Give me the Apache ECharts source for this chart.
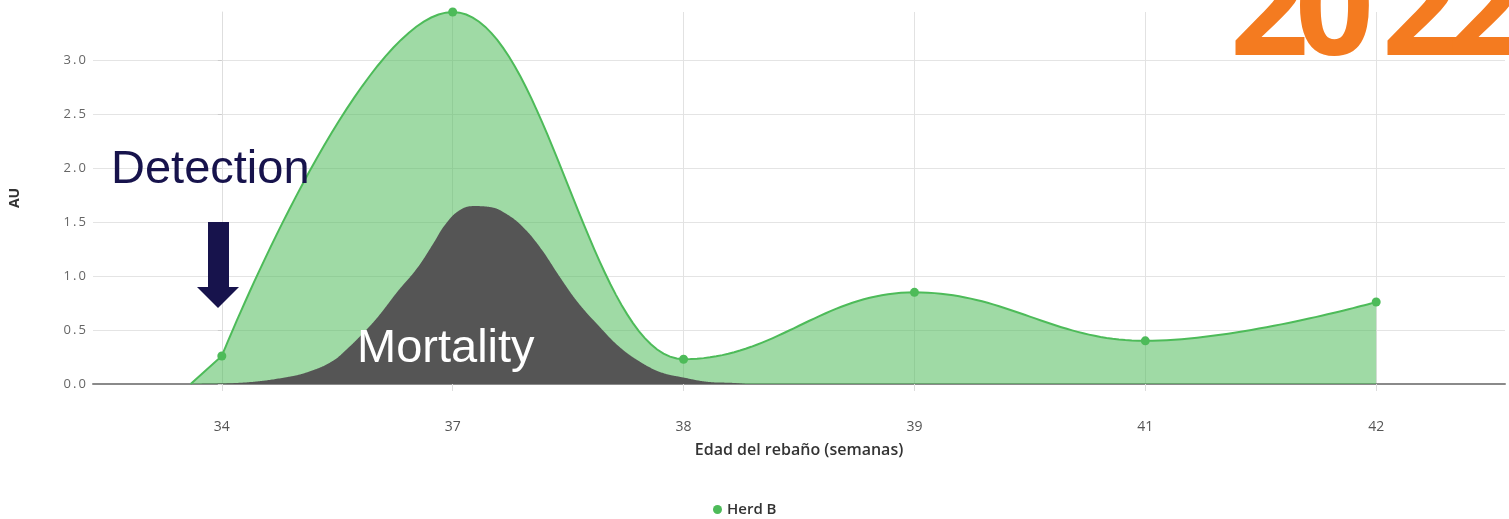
<!DOCTYPE html>
<html>
<head>
<meta charset="utf-8">
<script src="https://cdn.jsdelivr.net/npm/echarts@6/dist/echarts.min.js"></script>
<style>
  html, body { margin: 0; padding: 0; background: #ffffff; }
  #chart { width: 1509px; height: 519px; }
</style>
</head>
<body>
<div id="chart"></div>
<script>
// Herd age (weeks) shown as evenly spaced positions on the x axis
const weekLabels = ['34', '37', '38', '39', '41', '42'];
const weekIndex = [0, 1, 2, 3, 4, 5];

// Herd B signal (AU) per week
const herdB = [0.26, 3.45, 0.23, 0.85, 0.40, 0.76];
// foot of the Herd B area just before week 34
const herdBLeadIn = [-0.135, 0];

// Mortality curve overlay (x in week positions, y in AU)
const mortalityX = [-0.165, 0.069, 0.286, 0.398, 0.485, 0.545, 0.602, 0.675, 0.762, 0.848, 0.918, 0.961, 1.022, 1.091, 1.165, 1.238, 1.307, 1.381, 1.468, 1.541, 1.628, 1.714, 1.801, 1.900, 2.000, 2.104, 2.216, 2.270];
const mortalityY = [0, 0.01, 0.065, 0.13, 0.22, 0.33, 0.45, 0.62, 0.86, 1.08, 1.31, 1.46, 1.60, 1.65, 1.64, 1.57, 1.45, 1.26, 0.98, 0.76, 0.55, 0.36, 0.22, 0.11, 0.06, 0.02, 0.01, 0];

const yMax = 3.45;
const xPad = 0.558;

const UI_FONT = 'Open Sans, Liberation Sans, sans-serif';

// Spline through pixel points: control points at 1/2.5 of each neighbour
// segment, kept level at local peaks and troughs so the curve never overshoots.
function splineSegments(pts) {
  const s = 1.5, den = s + 1;
  const cps = pts.map((pt, i) => {
    const [x, y] = pt;
    const p = pts[i - 1], n = pts[i + 1];
    if (!p || !n) return { lx: x, ly: y, rx: x, ry: y };
    const lx = (s * x + p[0]) / den, rx = (s * x + n[0]) / den;
    let ly = (s * y + p[1]) / den, ry = (s * y + n[1]) / den;
    let corr = 0;
    if (rx !== lx) corr = ((ry - ly) * (rx - x)) / (rx - lx) + y - ry;
    ly += corr; ry += corr;
    if (ly > p[1] && ly > y) { ly = Math.max(p[1], y); ry = 2 * y - ly; }
    else if (ly < p[1] && ly < y) { ly = Math.min(p[1], y); ry = 2 * y - ly; }
    if (ry > n[1] && ry > y) { ry = Math.max(n[1], y); ly = 2 * y - ry; }
    else if (ry < n[1] && ry < y) { ry = Math.min(n[1], y); ly = 2 * y - ry; }
    return { lx, ly, rx, ry };
  });
  const out = [pts[0].slice()];
  const steps = 40;
  for (let i = 1; i < pts.length; i++) {
    const p0 = pts[i - 1], p3 = pts[i];
    const c1 = [cps[i - 1].rx, cps[i - 1].ry], c2 = [cps[i].lx, cps[i].ly];
    for (let k = 1; k <= steps; k++) {
      const t = k / steps, u = 1 - t;
      const a = u * u * u, b = 3 * u * u * t, c = 3 * u * t * t, d = t * t * t;
      out.push([
        a * p0[0] + b * c1[0] + c * c2[0] + d * p3[0],
        a * p0[1] + b * c1[1] + c * c2[1] + d * p3[1]
      ]);
    }
  }
  return out;
}

function makeAreaRenderer(fill, stroke, lineWidth, leadIn) {
  return function (params, api) {
    if (params.dataIndexInside !== 0) return null;
    const n = params.dataInsideLength;
    const pts = [];
    for (let j = 0; j < n; j++) pts.push(api.coord([api.value(0, j), api.value(1, j)]));
    let curve = splineSegments(pts);
    if (leadIn) curve = [api.coord(leadIn)].concat(curve);
    const baseY = api.coord([0, 0])[1];
    const area = curve.concat([[curve[curve.length - 1][0], baseY], [curve[0][0], baseY]]);
    const children = [{
      type: 'polygon',
      shape: { points: area },
      style: { fill: fill, stroke: null },
      silent: true
    }];
    if (stroke) {
      children.push({
        type: 'polyline',
        shape: { points: curve },
        style: { fill: null, stroke: stroke, lineWidth: lineWidth },
        silent: true
      });
    }
    return { type: 'group', children: children };
  };
}

const chart = echarts.init(document.getElementById('chart'), null, { renderer: 'canvas' });

const herdBPoints = weekIndex.map((x, i) => [x, herdB[i]]);
const mortalityPoints = mortalityX.map((x, i) => [x, mortalityY[i]]);

const option = {
  animation: false,
  backgroundColor: '#ffffff',
  grid: { left: 92, right: 4, top: 12, bottom: 135, containLabel: false },
  legend: {
    data: [{ name: 'Herd B', icon: 'circle' }],
    left: 708, top: 497,
    itemWidth: 9, itemHeight: 9, itemGap: 10,
    selectedMode: false,
    textStyle: { color: '#333333', fontSize: 15, fontWeight: 600, fontFamily: UI_FONT }
  },
  xAxis: {
    type: 'value',
    min: -xPad, max: weekIndex.length - 1 + xPad,
    name: 'Edad del rebaño (semanas)',
    nameLocation: 'middle',
    nameGap: 58,
    nameTextStyle: { color: '#333333', fontSize: 16, fontWeight: 600, fontFamily: UI_FONT },
    axisLine: { show: true, lineStyle: { color: '#8a8a8a', width: 2 } },
    axisTick: { show: true, customValues: weekIndex, length: 7, lineStyle: { color: '#dddddd' } },
    axisLabel: {
      customValues: weekIndex,
      margin: 36,
      color: '#555555', fontSize: 14, fontFamily: UI_FONT,
      formatter: v => weekLabels[Math.round(v)]
    },
    splitLine: { show: false }
  },
  yAxis: {
    type: 'value',
    min: 0, max: yMax, interval: 0.5,
    name: 'AU',
    nameLocation: 'middle',
    nameGap: 71,
    nameRotate: 90,
    nameTextStyle: { color: '#333333', fontSize: 14, fontWeight: 'bold', fontFamily: UI_FONT },
    axisLine: { show: true, lineStyle: { color: '#dedede', width: 1 } },
    axisTick: { show: true, length: 4, lineStyle: { color: '#cccccc' } },
    axisLabel: {
      margin: 7, color: '#666666', fontSize: 13,
      fontFamily: UI_FONT,
      showMaxLabel: false,
      formatter: v => (Math.abs(v * 2 - Math.round(v * 2)) < 1e-6 ? v.toFixed(1).replace('.', '\u2009.\u2009') : '')
    },
    splitLine: { show: true, showMaxLine: false, lineStyle: { color: '#e4e4e4', width: 1 } }
  },
  series: [
    {
      // vertical grid lines at each week
      type: 'line',
      z: 0,
      data: [],
      silent: true,
      markLine: {
        silent: true,
        z: 0,
        symbol: 'none',
        label: { show: false },
        lineStyle: { color: '#e2e2e2', width: 1, type: 'solid' },
        data: weekIndex.map(x => ({ xAxis: x }))
      }
    },
    {
      // Herd B filled spline
      type: 'custom',
      z: 2,
      silent: true,
      encode: { x: 0, y: 1 },
      data: herdBPoints,
      renderItem: makeAreaRenderer('rgba(77,187,89,0.54)', '#4dbb59', 2, herdBLeadIn)
    },
    {
      // Mortality overlay
      type: 'custom',
      z: 3,
      silent: true,
      encode: { x: 0, y: 1 },
      data: mortalityPoints,
      renderItem: makeAreaRenderer('#555555', null, 0, null)
    },
    {
      // Herd B markers (and legend entry)
      name: 'Herd B',
      type: 'line',
      z: 4,
      data: herdBPoints,
      symbol: 'circle',
      symbolSize: 9,
      itemStyle: { color: '#4dbb59' },
      lineStyle: { opacity: 0 },
      emphasis: { disabled: true }
    }
  ],
  graphic: [
    { type: 'text', left: 1230, top: -53, z: 10, style: { text: '2', fill: '#f47b20', fontSize: 138, fontWeight: 'bold', fontFamily: 'Open Sans, sans-serif' } },
    { type: 'text', left: 1295, top: -53, z: 10, style: { text: '0', fill: '#f47b20', fontSize: 138, fontWeight: 'bold', fontFamily: 'Open Sans, sans-serif' } },
    { type: 'text', left: 1382, top: -53, z: 10, style: { text: '2', fill: '#f47b20', fontSize: 138, fontWeight: 'bold', fontFamily: 'Open Sans, sans-serif' } },
    { type: 'text', left: 1447, top: -53, z: 10, style: { text: '2', fill: '#f47b20', fontSize: 138, fontWeight: 'bold', fontFamily: 'Open Sans, sans-serif' } },
    {
      type: 'text', left: 111, top: 147, z: 10,
      style: { text: 'Detection', fill: '#17134c', fontSize: 47, fontFamily: 'Liberation Sans, Arial, sans-serif' }
    },
    {
      type: 'polygon', z: 10,
      shape: { points: [[208, 222], [229, 222], [229, 287], [239, 287], [218, 308], [197, 287], [208, 287]] },
      style: { fill: '#17134c' }
    },
    {
      type: 'text', left: 357, top: 326, z: 10,
      style: { text: 'Mortality', fill: '#ffffff', fontSize: 47, fontFamily: 'Liberation Sans, Arial, sans-serif' }
    }
  ]
};

chart.setOption(option);
</script>
</body>
</html>
